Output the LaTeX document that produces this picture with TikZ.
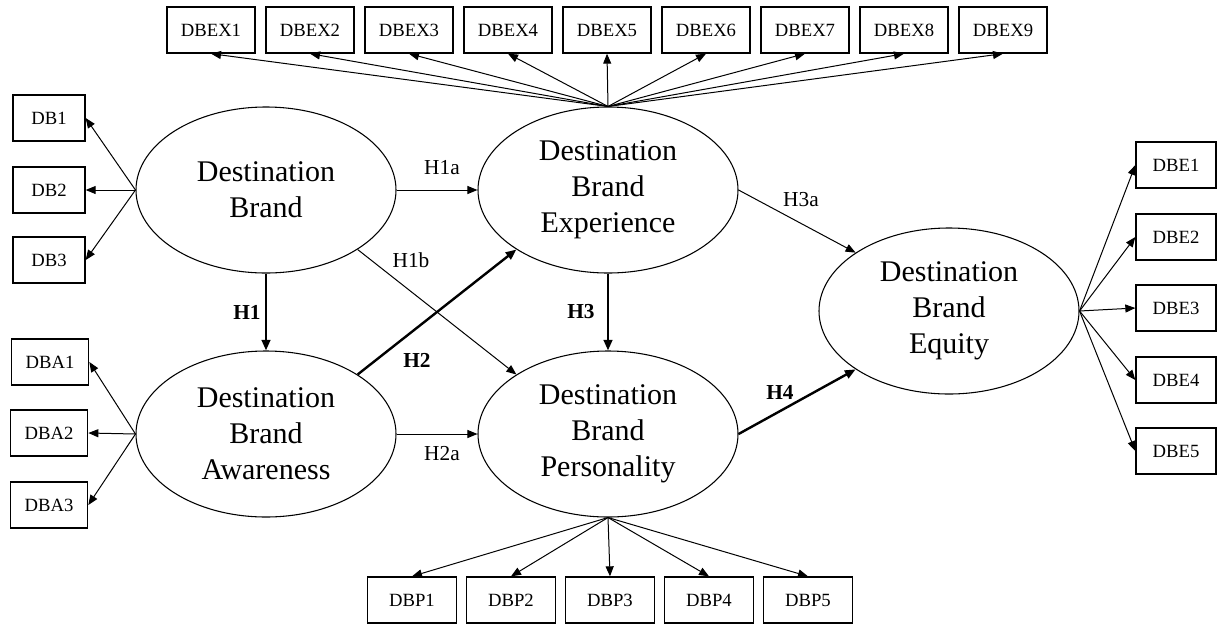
\documentclass[tikz,border=0pt]{standalone}
\usepackage{fontspec}
\setmainfont{Liberation Serif}
\usetikzlibrary{arrows.meta,shapes.geometric}
\begin{document}
\begin{tikzpicture}[x=0.75pt,y=-0.75pt,
  latent/.style={ellipse,draw,line width=0.8pt,minimum width=195pt,minimum height=124.5pt,
    inner sep=0pt,align=center,font=\fontsize{22.5}{27}\selectfont},
  ind/.style={rectangle,draw,line width=1pt,minimum height=34.5pt,inner sep=0pt,
    font=\fontsize{14}{16}\selectfont},
  exbox/.style={ind,minimum width=66pt},
  dbbox/.style={ind,minimum width=54pt},
  dbabox/.style={ind,minimum width=58pt},
  dbpbox/.style={ind,minimum width=67pt},
  dbebox/.style={ind,minimum width=60pt},
  loadarrow/.style={-{Triangle[length=7.5pt,width=6pt]},line width=0.75pt},
  hyparrow/.style={-{Triangle[length=7.5pt,width=6pt]},line width=0.75pt},
  keyarrow/.style={-{Triangle[length=8pt,width=6.5pt]},line width=1.8pt},
  lbl/.style={inner sep=0pt,font=\fontsize{16}{18}\selectfont},
  blbl/.style={inner sep=0pt,font=\fontsize{16}{18}\selectfont\bfseries}]

\useasboundingbox (0,0) rectangle (1220,626);

% latent constructs
\node[latent] (db)  at (266,190) {Destination\\Brand};
\node[latent] (dbx) at (608,190) {Destination\\Brand\\Experience};
\node[latent] (dba) at (266,434) {Destination\\Brand\\Awareness};
\node[latent] (dbp) at (608,434) {Destination\\Brand\\Personality};
\node[latent] (dbe) at (949,311) {Destination\\Brand\\Equity};

% indicators of destination brand
\node[dbbox] (db1) at (49,118) {DB1};
\node[dbbox] (db2) at (49,190) {DB2};
\node[dbbox] (db3) at (49,260) {DB3};

% indicators of awareness
\node[dbabox] (dba1) at (50,362) {DBA1};
\node[dbabox] (dba2) at (49,433) {DBA2};
\node[dbabox] (dba3) at (49,505) {DBA3};

% indicators of experience
\foreach \i in {1,...,9}{
  \node[exbox] (dbex\i) at ({211+99*(\i-1)},30) {DBEX\i};
  \draw[loadarrow] (dbx.north) -- (dbex\i.south);
}

% indicators of personality
\foreach \i in {1,...,5}{
  \node[dbpbox] (dbp\i) at ({412+99*(\i-1)},600) {DBP\i};
  \draw[loadarrow] (dbp.south) -- (dbp\i.north);
}

% indicators of equity
\foreach \i/\y in {1/165,2/237,3/308,4/380,5/451}{
  \node[dbebox] (dbe\i) at (1176,\y) {DBE\i};
  \draw[loadarrow] (dbe.east) -- (dbe\i.west);
}

\foreach \i in {1,2,3}{
  \draw[loadarrow] (db.west) -- (db\i.east);
  \draw[loadarrow] (dba.west) -- (dba\i.east);
}

% structural paths
\draw[hyparrow] (db.east) -- (dbx.west);
\draw[hyparrow] (dba.east) -- (dbp.west);
\draw[hyparrow] (db.-33) -- (dbp.147);
\draw[keyarrow] (dba.33) -- (dbx.213);
\draw[keyarrow] (db.south) -- (dba.north);
\draw[keyarrow] (dbx.south) -- (dbp.north);
\draw[hyparrow] (dbx.east) -- (dbe.148);
\draw[keyarrow] (dbp.east) -- (dbe.212);

% path labels
\node[lbl]  (h1a) at (442,168) {H1a};
\node[lbl]  (h2a) at (442,454) {H2a};
\node[lbl]  (h1b) at (411,260) {H1b};
\node[lbl]  (h3a) at (801,200) {H3a};
\node[blbl] (h1)  at (247,312) {H1};
\node[blbl] (h2)  at (417,360) {H2};
\node[blbl] (h3)  at (581,312) {H3};
\node[blbl] (h4)  at (780,392) {H4};
\end{tikzpicture}
\end{document}
